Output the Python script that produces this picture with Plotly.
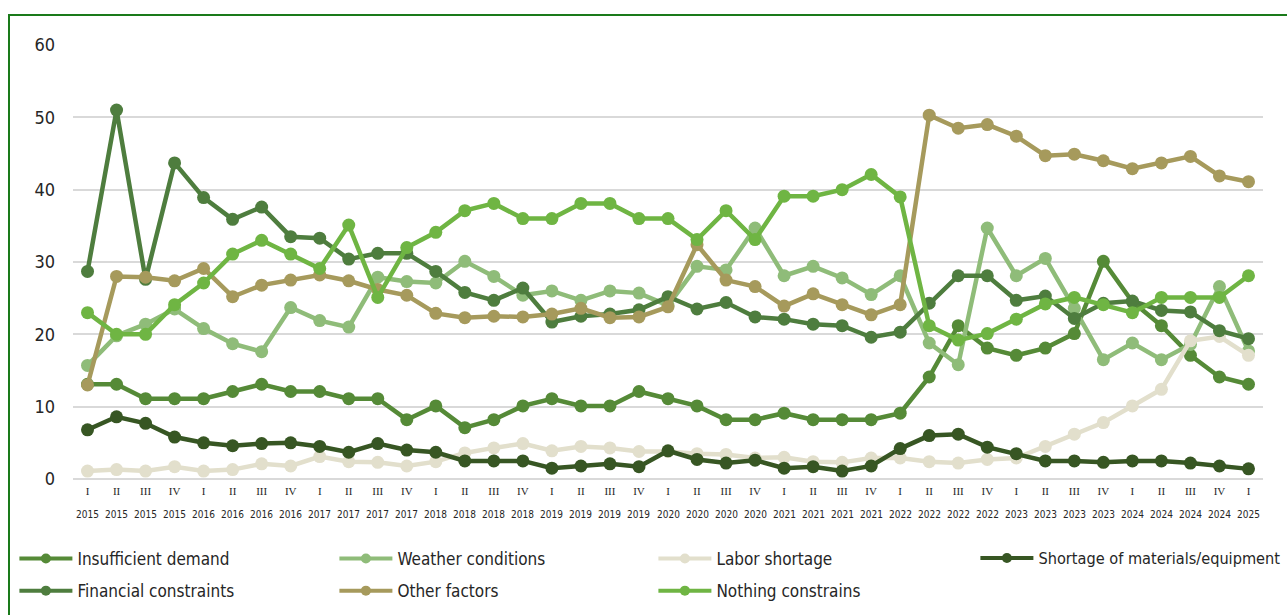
import plotly.graph_objects as go

quarters = ["I", "II", "III", "IV"]
years = [str(y) for y in range(2015, 2025) for _ in range(4)] + ["2025"]
qlabels = quarters * 10 + ["I"]

insufficient_demand = [13.1, 13.1, 11.1, 11.1, 11.1, 12.1, 13.1, 12.1, 12.1, 11.1, 11.1, 8.2,
                       10.1, 7.1, 8.2, 10.1, 11.1, 10.1, 10.1, 12.1, 11.1, 10.1, 8.2, 8.2,
                       9.1, 8.2, 8.2, 8.2, 9.1, 14.1, 21.2, 18.1, 17.1, 18.1, 20.1, 30.1,
                       24.5, 21.2, 17.1, 14.1, 13.1]
weather_conditions = [15.7, 19.8, 21.4, 23.5, 20.8, 18.7, 17.6, 23.7, 21.9, 21.0, 27.9, 27.3,
                      27.1, 30.1, 28.0, 25.4, 26.0, 24.7, 26.0, 25.7, 24.0, 29.4, 28.9, 34.7,
                      28.1, 29.4, 27.8, 25.5, 28.1, 18.8, 15.8, 34.7, 28.1, 30.5, 23.6, 16.5,
                      18.8, 16.5, 18.6, 26.6, 17.7]
labor_shortage = [1.1, 1.3, 1.1, 1.7, 1.1, 1.3, 2.1, 1.8, 3.1, 2.4, 2.3, 1.8,
                  2.4, 3.6, 4.3, 4.9, 3.9, 4.5, 4.3, 3.8, 3.8, 3.5, 3.4, 2.9,
                  3.0, 2.4, 2.3, 2.9, 2.9, 2.4, 2.2, 2.7, 2.9, 4.5, 6.2, 7.8,
                  10.1, 12.4, 19.1, 19.7, 17.1]
shortage_materials = [6.8, 8.6, 7.7, 5.8, 5.0, 4.6, 4.9, 5.0, 4.5, 3.7, 4.9, 4.0,
                      3.7, 2.5, 2.5, 2.5, 1.5, 1.8, 2.1, 1.7, 3.9, 2.7, 2.2, 2.6,
                      1.5, 1.7, 1.1, 1.8, 4.2, 6.0, 6.2, 4.4, 3.5, 2.5, 2.5, 2.3,
                      2.5, 2.5, 2.2, 1.8, 1.4]
financial_constraints = [28.7, 51.0, 27.6, 43.7, 38.9, 35.9, 37.6, 33.5, 33.3, 30.4, 31.2, 31.2,
                         28.7, 25.8, 24.7, 26.4, 21.7, 22.5, 22.8, 23.4, 25.2, 23.5, 24.4, 22.4,
                         22.1, 21.4, 21.2, 19.6, 20.3, 24.3, 28.1, 28.1, 24.7, 25.3, 22.2, 24.3,
                         24.6, 23.3, 23.1, 20.5, 19.4]
other_factors = [13.0, 28.0, 27.9, 27.4, 29.1, 25.2, 26.8, 27.5, 28.2, 27.4, 26.2, 25.4,
                 22.9, 22.3, 22.5, 22.4, 22.8, 23.6, 22.3, 22.4, 23.8, 32.4, 27.5, 26.6,
                 23.9, 25.6, 24.1, 22.7, 24.1, 50.3, 48.5, 49.0, 47.4, 44.7, 44.9, 44.0,
                 42.9, 43.7, 44.6, 41.9, 41.1]
nothing_constrains = [23.0, 20.0, 20.0, 24.1, 27.1, 31.1, 33.0, 31.1, 29.1, 35.1, 25.1, 32.0,
                      34.1, 37.1, 38.1, 36.0, 36.0, 38.1, 38.1, 36.0, 36.0, 33.1, 37.1, 33.1,
                      39.1, 39.1, 40.0, 42.1, 39.0, 21.2, 19.2, 20.1, 22.1, 24.2, 25.1, 24.1,
                      23.0, 25.1, 25.1, 25.1, 28.1]

series_names = ["Insufficient demand", "Weather conditions", "Labor shortage",
                "Shortage of materials/equipment", "Financial constraints",
                "Other factors", "Nothing constrains"]
series_values = [insufficient_demand, weather_conditions, labor_shortage, shortage_materials,
                 financial_constraints, other_factors, nothing_constrains]
series_colors = ["#558a37", "#8fbc79", "#e2dfcc", "#375623", "#4e7d3e", "#a69a5c", "#6fb543"]
# legend column for each series (4 columns, 2 rows)
series_legend = ["legend", "legend2", "legend3", "legend4", "legend", "legend2", "legend3"]

x = list(range(len(years)))

fig = go.Figure()
for name, vals, col, lg in zip(series_names, series_values, series_colors, series_legend):
    fig.add_trace(go.Scatter(
        x=x, y=vals, name=name, mode="lines+markers",
        line=dict(color=col, width=4.5),
        marker=dict(color=col, size=13),
        showlegend=False, legendgroup=name,
    ))
# legend-only entries (smaller symbols, as in the original legend)
for name, col, lg in zip(series_names, series_colors, series_legend):
    fig.add_trace(go.Scatter(
        x=[None], y=[None], name=name, mode="lines+markers",
        line=dict(color=col, width=4),
        marker=dict(color=col, size=10),
        legend=lg, legendgroup=name, showlegend=True,
    ))

for xi, yr in zip(x, years):
    fig.add_annotation(x=xi, y=0, xref="x", yref="paper", text=yr, showarrow=False,
                       yanchor="middle", yshift=-35,
                       font=dict(size=10, color="#262626"))

FONT = "Tahoma, 'DejaVu Sans Condensed', 'DejaVu Sans'"
legend_common = dict(orientation="v", xanchor="left", yanchor="top",
                     y=(479 - 541) / 434, itemwidth=53, tracegroupgap=7,
                     bgcolor="rgba(0,0,0,0)", traceorder="grouped")
col_px = [14.4, 334.4, 653.4, 975.4]
legend_font = dict(size=17, color="#262626")

fig.update_layout(
    width=1287, height=615,
    margin=dict(l=73, r=24, t=45, b=136, autoexpand=False),
    paper_bgcolor="white", plot_bgcolor="white",
    font=dict(family=FONT, color="#262626"),
    xaxis=dict(range=[-0.5, len(x) - 0.5], tickmode="array", tickvals=x, ticktext=qlabels,
               tickangle=0, showgrid=False, zeroline=False, ticks="",
               tickfont=dict(size=11, family="'Liberation Serif', serif", color="#262626"),
               showline=False, ticklabelstandoff=4),
    yaxis=dict(range=[0, 60], dtick=10, showgrid=True, gridcolor="#d9d9d9", gridwidth=1.5,
               zeroline=True, zerolinecolor="#d9d9d9", zerolinewidth=1.5,
               tickfont=dict(size=18, color="#262626"), ticklabelstandoff=17),
    showlegend=True,
    legend=dict(x=(col_px[0] - 73) / 1190, font=legend_font, **legend_common),
    legend2=dict(x=(col_px[1] - 73) / 1190, font=legend_font, **legend_common),
    legend3=dict(x=(col_px[2] - 73) / 1190, font=legend_font, **legend_common),
    legend4=dict(x=(col_px[3] - 73) / 1190, font=dict(size=16.2, color="#262626"),
                 **legend_common),
    shapes=[dict(type="rect", xref="paper", yref="paper",
                 x0=(9 - 73) / 1190, x1=1.2, y0=-1.0, y1=(479 - 15) / 434,
                 line=dict(color="#1a7a1a", width=2), fillcolor="rgba(0,0,0,0)",
                 layer="below")],
)

fig.write_html("out.html")
